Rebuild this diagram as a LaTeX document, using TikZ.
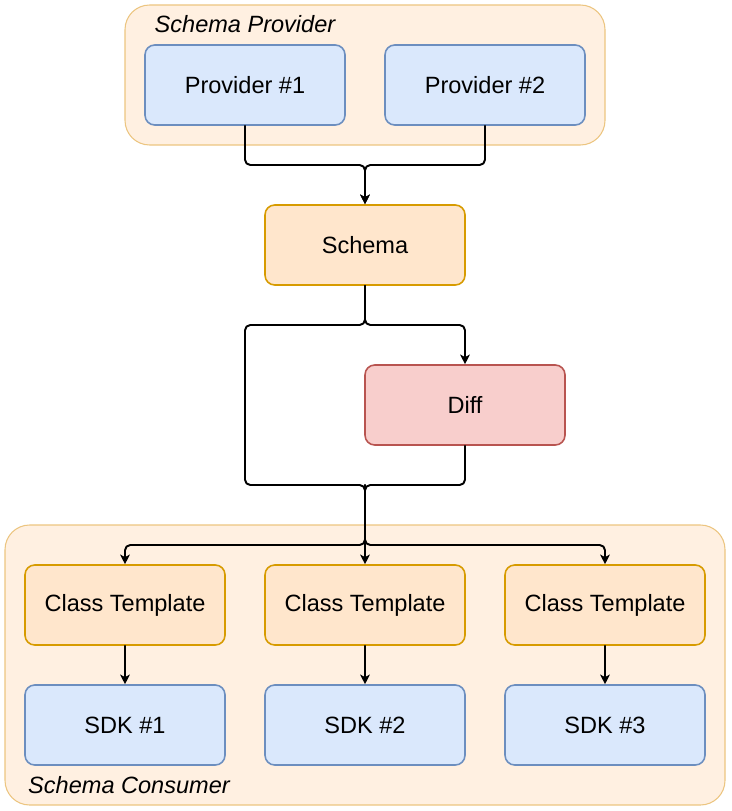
\documentclass[tikz,border=0pt]{standalone}
\usepackage{fontspec}
\setmainfont{Liberation Sans}
\usetikzlibrary{arrows.meta,calc}

\definecolor{blueFill}{HTML}{DAE8FC}
\definecolor{blueLine}{HTML}{6C8EBF}
\definecolor{orangeFill}{HTML}{FFE6CC}
\definecolor{orangeLine}{HTML}{D79B00}
\definecolor{redFill}{HTML}{F8CECC}
\definecolor{redLine}{HTML}{B85450}
\definecolor{groupFill}{HTML}{FFF0E1}
\definecolor{groupLine}{HTML}{ECC580}

\begin{document}
\begin{tikzpicture}[x=0.02cm, y=-0.02cm, >={Stealth[length=5.5pt,width=5.5pt,inset=1.5pt]},
    line cap=round, line join=round,
    box/.style={draw, rounded corners=5.5pt, line width=0.9pt, minimum width=4cm, minimum height=1.6cm,
        font=\fontsize{13.4}{15}\selectfont},
    bluebox/.style={box, fill=blueFill, draw=blueLine},
    orangebox/.style={box, fill=orangeFill, draw=orangeLine},
    redbox/.style={box, fill=redFill, draw=redLine},
    group/.style={fill=groupFill, draw=groupLine, line width=0.6pt, rounded corners=14pt},
    grouplabel/.style={font=\fontsize{13.4}{15}\selectfont\itshape},
    conn/.style={line width=1.1pt, rounded corners=3pt}]

    \useasboundingbox (0,0) rectangle (731,811);

    % containers
    \draw[group] (125,5) rectangle (605,145);
    \draw[group] (5,525) rectangle (725,805);
    \node[grouplabel] (providerlabel) at (245,24) {Schema Provider};
    \node[grouplabel] (consumerlabel) at (129,785) {Schema Consumer};

    % nodes
    \node[bluebox] (prov1) at (245,85) {Provider \#1};
    \node[bluebox] (prov2) at (485,85) {Provider \#2};
    \node[orangebox] (schema) at (365,245) {Schema};
    \node[redbox] (diff) at (465,405) {Diff};
    \foreach \i/\x in {1/125, 2/365, 3/605} {
        \node[orangebox] (tmpl\i) at (\x,605) {Class Template};
        \node[bluebox] (sdk\i) at (\x,725) {SDK \#\i};
    }

    % junctions
    \coordinate (jProv) at (365,165);
    \coordinate (jSchema) at (365,325);
    \coordinate (jLeft) at (245,325);
    \coordinate (jMerge) at (365,485);
    \coordinate (jSplit) at (365,545);

    % connectors
    \draw[conn,->] (prov1.south) |- (jProv) -- (schema.north);
    \draw[conn,->] (prov2.south) |- (jProv) -- (schema.north);
    \draw[conn,->] (schema.south) -- (jSchema) -| (diff.north);
    \draw[conn] (schema.south) -- (jSchema) -- (jLeft) |- (jMerge) -- (jSplit);
    \draw[conn] (diff.south) |- (jMerge) -- (jSplit);
    \draw[conn,->] (jMerge) -- (jSplit) -| (tmpl1.north);
    \draw[conn,->] (jSplit) -- (tmpl2.north);
    \draw[conn,->] (jMerge) -- (jSplit) -| (tmpl3.north);
    \foreach \i in {1,2,3}
        \draw[conn,->] (tmpl\i.south) -- (sdk\i.north);

\end{tikzpicture}
\end{document}
